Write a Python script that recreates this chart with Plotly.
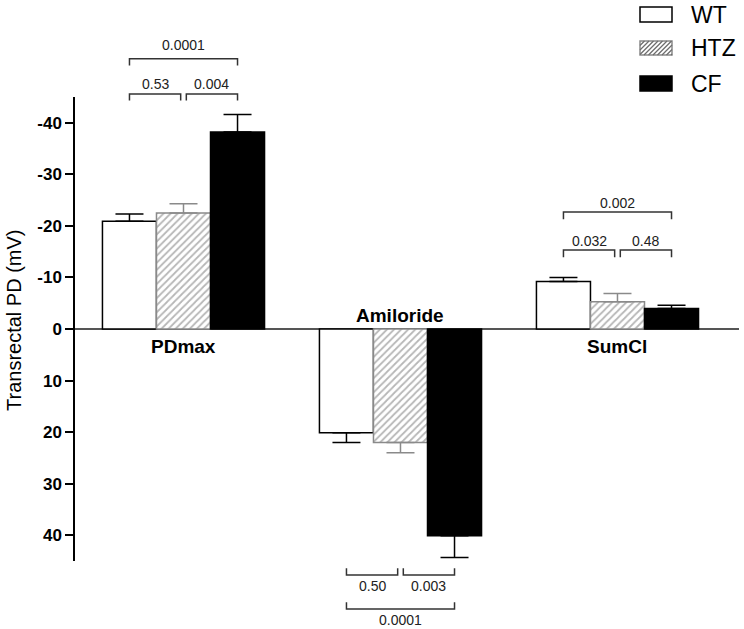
import plotly.graph_objects as go

# ---------------- data ----------------
categories = ["PDmax", "Amiloride", "SumCl"]
groups = ["WT", "HTZ", "CF"]
wt_mean = [-20.9, 20.1, -9.2]
htz_mean = [-22.5, 22.0, -5.3]
cf_mean = [-38.2, 40.1, -4.0]
wt_sem = [1.4, 1.9, 0.8]
htz_sem = [1.8, 2.0, 1.6]
cf_sem = [3.4, 4.2, 0.6]
y_tick_vals = [-40, -30, -20, -10, 0, 10, 20, 30, 40]
y_tick_text = ["-40", "-30", "-20", "-10", "0", "10", "20", "30", "40"]
# comparisons: category index, first group index, second group index, p-value text
cmp_cat = [0, 0, 0, 1, 1, 1, 2, 2, 2]
cmp_a = [0, 1, 0, 0, 1, 0, 0, 1, 0]
cmp_b = [1, 2, 2, 1, 2, 2, 1, 2, 2]
cmp_p = ["0.53", "0.004", "0.0001", "0.50", "0.003", "0.0001", "0.032", "0.48", "0.002"]

# ---------------- layout geometry ----------------
W, H = 744, 629
ML, MR, MT, MB = 75, 5, 97, 68
PW, PH = W - ML - MR, H - MT - MB
Y_RANGE = [45, -45]          # reversed: negative values upward
X_RANGE = [-0.5, 2.56]
BARGAP = 0.253
BW = (1 - BARGAP) / 3
FONT = "Liberation Sans, Arial, sans-serif"
HATCH = "#6e6e6e"


def yp(v):
    """data y -> paper y"""
    return (v - Y_RANGE[0]) / (Y_RANGE[1] - Y_RANGE[0])


def pxx(px):
    return (px - ML) / PW


def pxy(py):
    return (H - MB - py) / PH


def bar_center(cat, grp):
    return cat + (grp - 1) * BW


def err(means, sems):
    plus = [s if m > 0 else 0 for m, s in zip(means, sems)]
    minus = [s if m < 0 else 0 for m, s in zip(means, sems)]
    return plus, minus


fig = go.Figure()

series = [
    (groups[0], wt_mean, wt_sem, dict(color="white", line=dict(color="black", width=1.5)), "black"),
    (groups[1], htz_mean, htz_sem,
     dict(color="white", line=dict(color="#8a8a8a", width=1.5),
          pattern=dict(shape="/", fgcolor=HATCH, bgcolor="white", size=5, solidity=0.35)), "#8a8a8a"),
    (groups[2], cf_mean, cf_sem, dict(color="black", line=dict(color="black", width=1.5)), "black"),
]
for name, means, sems, marker, ecol in series:
    plus, minus = err(means, sems)
    fig.add_trace(go.Bar(
        x=[0, 1, 2], y=means, name=name, marker=marker,
        error_y=dict(type="data", symmetric=False, array=plus, arrayminus=minus,
                     color=ecol, thickness=1.5, width=14),
        showlegend=False,
    ))

shapes = []
annotations = []

# category labels
cat_label_y = {0: 3.3, 1: -2.7, 2: 3.3}
for i, c in enumerate(categories):
    annotations.append(dict(x=i, y=yp(cat_label_y[i]), xref="x", yref="paper", text=c,
                            showarrow=False, xanchor="center", yanchor="middle",
                            font=dict(family=FONT, size=19, color="black", weight="bold")))

# comparison brackets: per category -> (short level, long level, tick dir, short text, long text)
levels = {
    0: dict(short=-45.6, long=-52.4, tick=1.3, short_t=-47.6, long_t=-55.0),
    1: dict(short=47.7, long=54.3, tick=-1.3, short_t=49.9, long_t=56.4),
    2: dict(short=-15.3, long=-22.7, tick=1.4, short_t=-17.1, long_t=-24.5),
}
GAP = 0.013
for c, a, b, p in zip(cmp_cat, cmp_a, cmp_b, cmp_p):
    lv = levels[c]
    is_long = (b - a) == 2
    yl = lv["long"] if is_long else lv["short"]
    yt = yl + lv["tick"]
    x1 = bar_center(c, a)
    x2 = bar_center(c, b)
    if not is_long:
        if a == 1:
            x1 += GAP
        if b == 1:
            x2 -= GAP
    shapes.append(dict(type="path", xref="x", yref="paper",
                       path=f"M {x1},{yp(yt)} L {x1},{yp(yl)} L {x2},{yp(yl)} L {x2},{yp(yt)}",
                       line=dict(color="#333333", width=1.5)))
    ty = lv["long_t"] if is_long else lv["short_t"]
    annotations.append(dict(x=(x1 + x2) / 2, y=yp(ty), xref="x", yref="paper", text=p,
                            showarrow=False, xanchor="center", yanchor="middle",
                            font=dict(family=FONT, size=14, color="#222222")))

# y-axis title
annotations.append(dict(x=pxx(14), y=pxy(320), xref="paper", yref="paper",
                        text="Transrectal PD (mV)", textangle=-90, showarrow=False,
                        xanchor="center", yanchor="middle",
                        font=dict(family=FONT, size=20, color="black")))

# custom legend
LX0, LX1 = 640, 672
leg_rows = [(7, 22), (41, 55), (76, 91)]
leg_style = [("white", "black"), ("white", "#8a8a8a"), ("black", "black")]
for i, ((t, bt), (fc, lc)) in enumerate(zip(leg_rows, leg_style)):
    shapes.append(dict(type="rect", xref="paper", yref="paper",
                       x0=pxx(LX0), x1=pxx(LX1), y0=pxy(bt), y1=pxy(t),
                       fillcolor=fc, line=dict(color=lc, width=1.5)))
    if i == 1:
        w, h = LX1 - LX0, bt - t
        segs = []
        c = -h
        while c < w:
            v0 = max(0, -c)
            v1 = min(h, w - c)
            if v0 < v1:
                segs.append(f"M {pxx(LX0 + v0 + c)},{pxy(bt - v0)} L {pxx(LX0 + v1 + c)},{pxy(bt - v1)}")
            c += 4.5
        shapes.append(dict(type="path", xref="paper", yref="paper", path=" ".join(segs),
                           line=dict(color=HATCH, width=1.3)))
    annotations.append(dict(x=pxx(689), y=pxy((t + bt) / 2), xref="paper", yref="paper",
                            text=groups[i], showarrow=False, xanchor="left", yanchor="middle",
                            font=dict(family=FONT, size=23, color="black")))

fig.update_layout(
    width=W, height=H,
    margin=dict(l=ML, r=MR, t=MT, b=MB, pad=0),
    plot_bgcolor="white", paper_bgcolor="white",
    barmode="group", bargap=BARGAP, bargroupgap=0,
    showlegend=False,
    shapes=shapes, annotations=annotations,
    xaxis=dict(range=X_RANGE, showline=False, showticklabels=False, ticks="",
               showgrid=False, zeroline=False, fixedrange=True),
    yaxis=dict(range=Y_RANGE, showline=True, linecolor="black", linewidth=1.5,
               ticks="outside", ticklen=8, tickwidth=1.5, tickcolor="black",
               tickvals=y_tick_vals, ticktext=y_tick_text,
               tickfont=dict(family=FONT, size=17, color="black", weight="bold"),
               showgrid=False, zeroline=True, zerolinecolor="#555555", zerolinewidth=1.5,
               fixedrange=True),
)

fig.write_html("out.html", config={"displayModeBar": False},
               post_script="document.body.style.margin='0';document.body.style.overflow='hidden';")
